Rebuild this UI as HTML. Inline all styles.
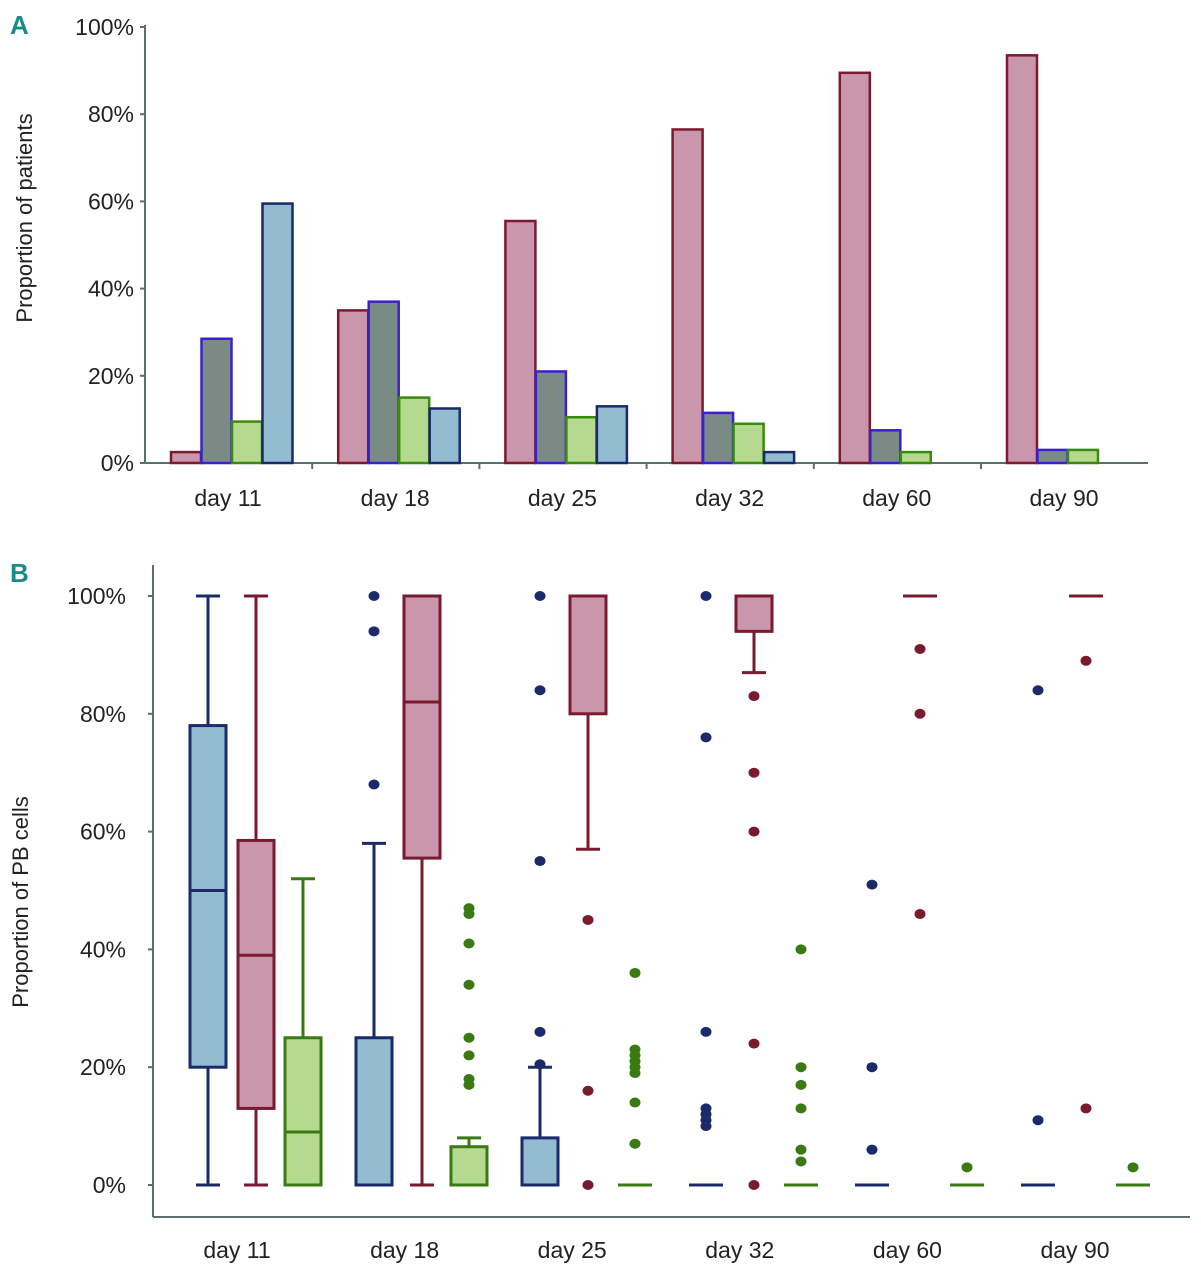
<!DOCTYPE html>
<html><head><meta charset="utf-8"><style>
body{margin:0;background:#fff;}
svg{display:block;font-family:"Liberation Sans",sans-serif;}
</style></head><body>
<svg id="c" width="1201" height="1280" viewBox="0 0 1201 1280">
<text x="10" y="34" font-size="26" font-weight="bold" fill="#1a8a8a">A</text>
<text x="10" y="582" font-size="26" font-weight="bold" fill="#1a8a8a">B</text>
<text transform="translate(32,218) rotate(-90)" text-anchor="middle" font-size="22" fill="#222">Proportion of patients</text>
<text transform="translate(28,902) rotate(-90)" text-anchor="middle" font-size="22" fill="#222">Proportion of PB cells</text>
<g id="ga"></g>
<g id="gb"></g>
</svg>
<script>
const days=["day 11","day 18","day 25","day 32","day 60","day 90"];
const ticksPct=[0,20,40,60,80,100];
const aPink=[2.5,35,55.5,76.5,89.5,93.5];
const aGray=[28.5,37,21,11.5,7.5,3];
const aGreen=[9.5,15,10.5,9,2.5,3];
const aBlue=[59.5,12.5,13,2.5,0,0];
// box stats: [min,q1,med,q3,max]
const bBlue=[[0,20,50,78,100],[0,0,0,25,58],[0,0,0,8,20],[0,0,0,0,0],[0,0,0,0,0],[0,0,0,0,0]];
const bPink=[[0,13,39,58.5,100],[0,55.5,82,100,100],[57,80,80,100,100],[87,94,94,100,100],[100,100,100,100,100],[100,100,100,100,100]];
const bGreen=[[0,0,9,25,52],[0,0,0,6.5,8],[0,0,0,0,0],[0,0,0,0,0],[0,0,0,0,0],[0,0,0,0,0]];
const oBlue=[[],[100,94,68],[100,84,55,26,20.5],[100,76,26,13,12,11,10],[51,20,6],[84,11]];
const oPink=[[],[],[45,16,0],[83,70,60,24,0],[91,80,46],[89,13]];
const oGreen=[[],[47,46,41,34,25,22,18,17],[36,23,22,21,20,19,14,7],[40,20,17,13,6,4],[3],[3]];
const NS="http://www.w3.org/2000/svg";
function mk(p,tag,at,txt){const e=document.createElementNS(NS,tag);for(const k in at)e.setAttribute(k,at[k]);if(txt!==undefined)e.textContent=txt;p.appendChild(e);return e;}
const AX="#5a7070";
// Panel A
const ga=document.getElementById('ga');
const ay=v=>463-v*4.36;
const ax=i=>145+i*167.2;
mk(ga,'line',{x1:145,y1:25,x2:145,y2:463,stroke:AX,'stroke-width':2});
mk(ga,'line',{x1:140,y1:463,x2:1148,y2:463,stroke:AX,'stroke-width':2});
ticksPct.forEach(t=>{
 const l=mk(ga,'line',{x1:140,y1:ay(t),x2:145,y2:ay(t),stroke:AX,'stroke-width':2});
 
 const tx=mk(ga,'text',{x:134,y:ay(t)+8,'text-anchor':'end','font-size':23,fill:'#222'},t+'%');
 
});
days.forEach((d,i)=>{
 if(i>0){mk(ga,'line',{x1:ax(i),y1:463,x2:ax(i),y2:469,stroke:AX,'stroke-width':2});}
 const tx=mk(ga,'text',{x:ax(i)+83,y:506,'text-anchor':'middle','font-size':23,fill:'#222'},d);
 
});
const aSeries=[[aPink,'#c996ac','#7a1a2e','pink'],[aGray,'#7a8a85','#3a20d0','gray'],[aGreen,'#b5d98f','#3a8a12','green'],[aBlue,'#93bcd1','#1a2a6a','blue']];
aSeries.forEach((s,k)=>{
 s[0].forEach((v,i)=>{
  if(v<=0)return;
  const x=ax(i)+26+k*30.5;
  const r=mk(ga,'rect',{x:x,y:ay(v),width:30,height:463-ay(v),fill:s[1],stroke:s[2],'stroke-width':2.5});
  
  
 });
});
// Panel B
const gb=document.getElementById('gb');
const by=v=>1185-v*5.89;
const bx=i=>238+i*166;
const lx=i=>237+i*167.6;
mk(gb,'line',{x1:153,y1:565,x2:153,y2:1217,stroke:AX,'stroke-width':2});
mk(gb,'line',{x1:153,y1:1217,x2:1190,y2:1217,stroke:AX,'stroke-width':2});
ticksPct.forEach(t=>{
 mk(gb,'line',{x1:148,y1:by(t),x2:153,y2:by(t),stroke:AX,'stroke-width':2});
 const tx=mk(gb,'text',{x:126,y:by(t)+8,'text-anchor':'end','font-size':23,fill:'#222'},t+'%');
 
});
days.forEach((d,i)=>{
 const tx=mk(gb,'text',{x:lx(i),y:1258,'text-anchor':'middle','font-size':23,fill:'#222'},d);
 
});
const bSeries=[[bBlue,oBlue,-30,'#93bcd1','#1a2a6a','blue'],[bPink,oPink,18,'#c996ac','#7a1a2e','pink'],[bGreen,oGreen,65,'#b5d98f','#3a7a12','green']];
bSeries.forEach(s=>{
 s[0].forEach((st,i)=>{
  const cx=bx(i)+s[2];const col=s[4];
  const g=mk(gb,'g',{});
  
  
  const [mn,q1,md,q3,mx]=st;
  if(q3-q1>0){
   if(mx>q3){mk(g,'line',{x1:cx,y1:by(mx),x2:cx,y2:by(q3),stroke:col,'stroke-width':3});mk(g,'line',{x1:cx-12,y1:by(mx),x2:cx+12,y2:by(mx),stroke:col,'stroke-width':3});}
   if(mn<q1){mk(g,'line',{x1:cx,y1:by(q1),x2:cx,y2:by(mn),stroke:col,'stroke-width':3});mk(g,'line',{x1:cx-12,y1:by(mn),x2:cx+12,y2:by(mn),stroke:col,'stroke-width':3});}
   mk(g,'rect',{x:cx-18,y:by(q3),width:36,height:by(q1)-by(q3),fill:s[3],stroke:col,'stroke-width':3});
   if(md>q1&&md<q3)mk(g,'line',{x1:cx-18,y1:by(md),x2:cx+18,y2:by(md),stroke:col,'stroke-width':3});
  } else {
   mk(g,'line',{x1:cx-17,y1:by(md),x2:cx+17,y2:by(md),stroke:col,'stroke-width':3});
  }
  s[1][i].forEach(v=>{
   const c=mk(gb,'ellipse',{cx:cx,cy:by(v),rx:5.5,ry:5,fill:col});
   
   
  });
 });
});
</script>
</body></html>
